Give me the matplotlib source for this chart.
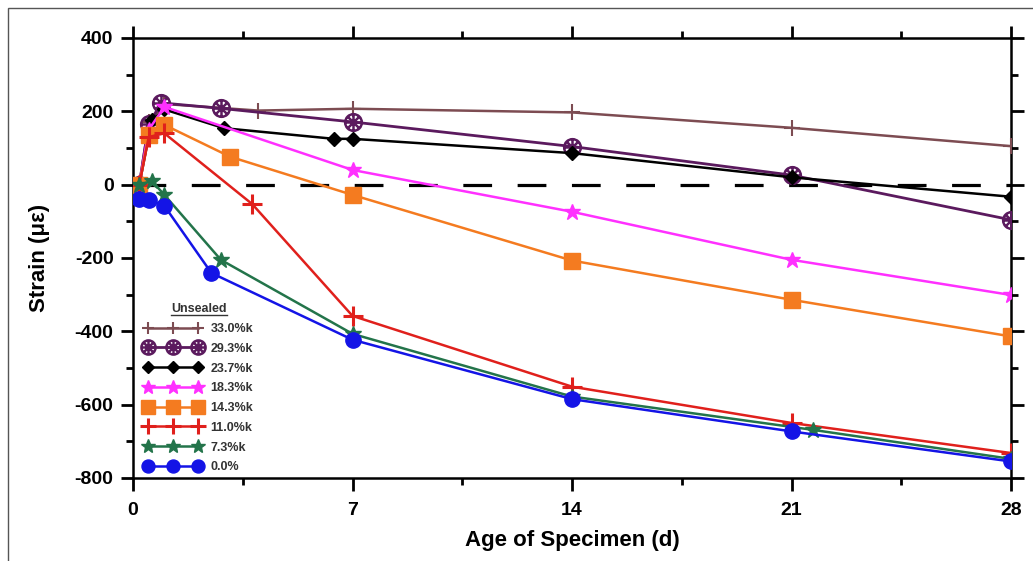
import numpy as np
import matplotlib.pyplot as plt
from matplotlib.path import Path
from matplotlib.patches import Rectangle
from matplotlib.ticker import MultipleLocator

plt.rcParams['font.family'] = ['Liberation Sans', 'DejaVu Sans']
plt.rcParams['axes.unicode_minus'] = False

# data (age in days, strain in microstrain)
labels = ['33.0%k', '29.3%k', '23.7%k', '18.3%k', '14.3%k', '11.0%k', '7.3%k', '0.0%']

age_330 = [0.2, 0.5, 1.0, 4.0, 7, 14, 21, 28]
strain_330 = [0, 170, 220, 202, 207, 197, 155, 105]

age_293 = [0.2, 0.5, 0.9, 2.8, 7, 14, 21, 28]
strain_293 = [0, 165, 223, 208, 171, 104, 26, -96]

age_237 = [0.2, 0.6, 1.0, 2.9, 6.4, 7, 14, 21, 28]
strain_237 = [0, 175, 205, 154, 125, 125, 86, 20, -33]

age_183 = [0.2, 0.5, 1.0, 7, 14, 21, 28]
strain_183 = [0, 150, 212, 40, -74, -205, -301]

age_143 = [0.2, 0.5, 1.0, 3.1, 7, 14, 21, 28]
strain_143 = [0, 135, 163, 76, -28, -207, -314, -414]

age_110 = [0.2, 0.5, 1.0, 3.8, 7, 14, 21, 28]
strain_110 = [0, 130, 140, -53, -358, -551, -650, -732]

age_73 = [0.2, 0.6, 1.0, 2.8, 7, 14, 21.7, 28]
strain_73 = [0, 10, -28, -205, -407, -578, -669, -748]

age_00 = [0.2, 0.5, 1.0, 2.5, 7, 14, 21, 28]
strain_00 = [-40, -42, -58, -241, -423, -585, -673, -755]

ages = [age_330, age_293, age_237, age_183, age_143, age_110, age_73, age_00]
strains = [strain_330, strain_293, strain_237, strain_183, strain_143, strain_110, strain_73, strain_00]

# circle with an x inside, for the 29.3% series
c = Path.unit_circle()
x_cross = Path([(-0.7, -0.7), (0.7, 0.7), (-0.7, 0.7), (0.7, -0.7), (0, -1), (0, 1), (-1, 0), (1, 0)],
               [Path.MOVETO, Path.LINETO, Path.MOVETO, Path.LINETO,
                Path.MOVETO, Path.LINETO, Path.MOVETO, Path.LINETO])
circ_x = Path.make_compound_path(c, x_cross)

styles = [
    dict(color='#7d4c52', marker='+', ms=11, mew=1.5, lw=1.8),
    dict(color='#5b1a5e', marker=circ_x, ms=12, mew=1.8, mfc='none', lw=2.0),
    dict(color='black', marker='D', ms=7, lw=1.8),
    dict(color='#ff30ff', marker='*', ms=12, lw=1.8),
    dict(color='#f47b20', marker='s', ms=12, lw=1.8),
    dict(color='#e0201c', marker='+', ms=14, mew=2.2, lw=1.8),
    dict(color='#23744a', marker='*', ms=12, lw=1.8),
    dict(color='#1414e6', marker='o', ms=11, lw=1.8),
]

fig = plt.figure(figsize=(10.33, 5.61), dpi=100)
ax = fig.add_axes([0.1288, 0.148, 0.8499, 0.7843])

# thin frame around the picture
fig.patches.append(Rectangle((8 / 1033, -0.1), 1.2, 1.1 - 8 / 561, transform=fig.transFigure,
                             fill=False, ec='#555555', lw=1.0))

ax.axhline(0, color='black', lw=2.3, dashes=(9, 8), zorder=1, xmin=0.005)

for a, s, lab, st in zip(ages, strains, labels, styles):
    ax.plot(a, s, label=lab, zorder=3, **st)

ax.set_xlim(0, 28)
ax.set_ylim(-800, 400)
ax.xaxis.set_major_locator(MultipleLocator(7))
ax.xaxis.set_minor_locator(MultipleLocator(3.5))
ax.yaxis.set_major_locator(MultipleLocator(200))
ax.yaxis.set_minor_locator(MultipleLocator(100))
ax.tick_params(which='both', direction='out', top=True, right=True, width=2,
               labelsize=14)
ax.tick_params(axis='x', pad=8)
ax.tick_params(axis='y', pad=5)
ax.tick_params(which='major', length=9)
ax.tick_params(which='minor', length=5)
for lbl in ax.get_xticklabels() + ax.get_yticklabels():
    lbl.set_fontweight('bold')
for sp in ax.spines.values():
    sp.set_linewidth(1.8)

ax.set_xlabel('Age of Specimen (d)', fontsize=16, fontweight='bold', labelpad=8)
ax.set_ylabel('Strain (\u03bc\u03b5)', fontsize=16, fontweight='bold', labelpad=18)

leg = ax.legend(loc='lower left', bbox_to_anchor=(0.0, -0.015), frameon=False, numpoints=3,
                handlelength=4.6, handletextpad=0.7, labelspacing=0.62,
                prop={'size': 9, 'weight': 'bold'}, title='Unsealed',
                title_fontproperties={'size': 9, 'weight': 'bold'}, markerscale=0.85)
for t in leg.get_texts():
    t.set_color('#333333')
title = leg.get_title()
title.set_color('#333333')

# underline the legend title
fig.canvas.draw()
bb = title.get_window_extent().transformed(fig.transFigure.inverted())
fig.add_artist(plt.Line2D([bb.x0, bb.x1], [bb.y0 + 0.001, bb.y0 + 0.001],
                          transform=fig.transFigure, color='#333333', lw=1.0))

fig.savefig('out.png', dpi=100)
